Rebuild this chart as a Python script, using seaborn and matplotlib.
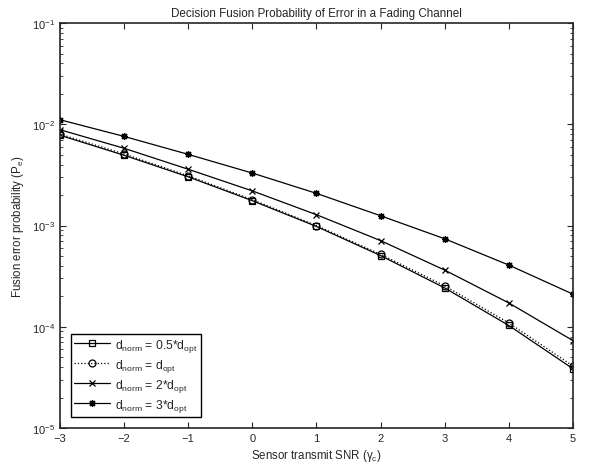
import numpy as np
import pandas as pd
import seaborn as sns
import matplotlib.pyplot as plt
from matplotlib.ticker import LogLocator, NullFormatter

snr = [-3, -2, -1, 0, 1, 2, 3, 4, 5]
pe_half = [7.8e-3, 4.95e-3, 3.03e-3, 1.76e-3, 9.8e-4, 5.05e-4, 2.42e-4, 1.03e-4, 3.85e-5]
pe_opt = [8.0e-3, 5.1e-3, 3.1e-3, 1.8e-3, 1.0e-3, 5.2e-4, 2.54e-4, 1.09e-4, 4.1e-5]
pe_two = [8.85e-3, 5.8e-3, 3.6e-3, 2.2e-3, 1.28e-3, 7.1e-4, 3.63e-4, 1.72e-4, 7.3e-5]
pe_three = [1.11e-2, 7.6e-3, 5.05e-3, 3.3e-3, 2.08e-3, 1.25e-3, 7.4e-4, 4.07e-4, 2.1e-4]

labels = [r"d$_{\rm norm}$ = 0.5*d$_{\rm opt}$",
          r"d$_{\rm norm}$ = d$_{\rm opt}$",
          r"d$_{\rm norm}$ = 2*d$_{\rm opt}$",
          r"d$_{\rm norm}$ = 3*d$_{\rm opt}$"]
markers = ["s", "o", "x", (8, 2, 0)]
linestyles = ["-", ":", "-", "-"]

sns.set_style("ticks")
plt.rcParams["font.family"] = ["Liberation Sans", "DejaVu Sans"]
plt.rcParams["mathtext.fontset"] = "custom"
plt.rcParams["mathtext.rm"] = "Liberation Sans"
plt.rcParams["mathtext.it"] = "Liberation Sans:italic"
plt.rcParams["font.size"] = 8

fig = plt.figure(figsize=(5.94, 4.64), dpi=100)
ax = fig.add_axes([0.101, 0.0754, 0.8636, 0.8726])

for vals, lab, mk, ls in zip([pe_half, pe_opt, pe_two, pe_three], labels, markers, linestyles):
    d = pd.DataFrame({"snr": snr, "pe": vals})
    sns.lineplot(d, x="snr", y="pe", color="black", marker=mk, linestyle=ls,
                 mfc="none", mec="black", ms=5, mew=0.9, lw=0.9, label=lab, ax=ax)

ax.set_yscale("log")
ax.set_xlim(-3, 5)
ax.set_ylim(1e-5, 1e-1)
ax.set_xticks(snr)
ax.yaxis.set_minor_locator(LogLocator(base=10, subs=np.arange(2, 10)))
ax.yaxis.set_minor_formatter(NullFormatter())
ax.tick_params(which="both", direction="in", top=True, right=True, labelsize=8)
ax.tick_params(which="major", length=4, width=0.8)
ax.tick_params(which="minor", length=2, width=0.6)
for s in ax.spines.values():
    s.set_linewidth(1.2)

ax.set_title("Decision Fusion Probability of Error in a Fading Channel", fontsize=8.4, pad=5)
ax.set_xlabel("Sensor transmit SNR (γ$_{\\rm c}$)", fontsize=8.3, labelpad=3)
ax.set_ylabel("Fusion error probability (P$_{\\rm e}$)", fontsize=8.3)

leg = ax.legend(loc="lower left", bbox_to_anchor=(0.01, 0.013), fontsize=8.7,
                fancybox=False, framealpha=1, edgecolor="black",
                handlelength=3.0, borderpad=0.25, labelspacing=0.25, handletextpad=0.4)
leg.get_frame().set_linewidth(1.0)

fig.savefig("out.png", dpi=100)
